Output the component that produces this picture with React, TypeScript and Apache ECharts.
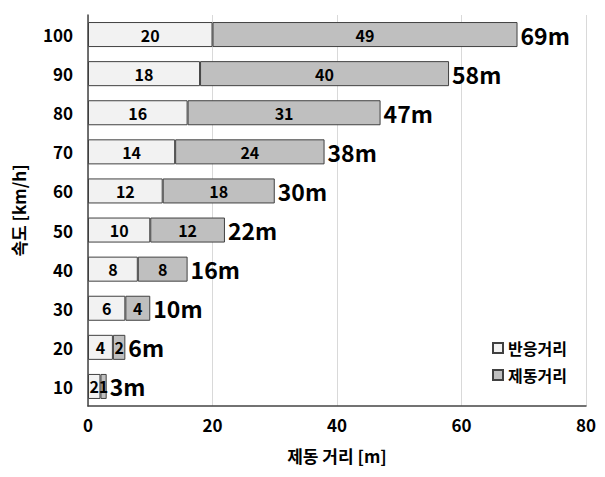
import React, { useEffect, useRef } from "react";
import * as echarts from "echarts";

const speeds = ["10", "20", "30", "40", "50", "60", "70", "80", "90", "100"];
const reaction = [2, 4, 6, 8, 10, 12, 14, 16, 18, 20];
const braking = [1, 2, 4, 8, 12, 18, 24, 31, 40, 49];
const totals = [3, 6, 10, 16, 22, 30, 38, 47, 58, 69];
const xTicks = [0, 20, 40, 60, 80];

const FONT = "'Noto Sans CJK KR', 'Noto Sans', sans-serif";

export default function App() {
  const ref = useRef<HTMLDivElement>(null);
  useEffect(() => {
    if (!ref.current) return;
    const chart = echarts.init(ref.current, null, { renderer: "svg" });
    const barLabel = {
      show: true,
      position: "inside",
      color: "#000",
      fontFamily: FONT,
      fontWeight: "bold",
      fontSize: 16,
    };
    chart.setOption({
      animation: false,
      textStyle: { fontFamily: FONT },
      grid: {
        left: 80,
        right: 11,
        top: 7,
        bottom: 63,
        containLabel: false,
        outerBoundsMode: "none",
      },
      legend: {
        orient: "vertical",
        left: 479,
        top: 327,
        itemWidth: 10,
        itemHeight: 10,
        itemGap: 11,
        icon: "rect",
        textStyle: { fontFamily: FONT, fontWeight: "bold", fontSize: 16, color: "#000" },
        data: ["반응거리", "제동거리"],
      },
      xAxis: {
        type: "value",
        min: xTicks[0],
        max: xTicks[xTicks.length - 1],
        interval: 20,
        name: "제동 거리 [m]",
        nameLocation: "middle",
        nameGap: 41,
        nameTextStyle: { fontFamily: FONT, fontWeight: "bold", fontSize: 17, color: "#000" },
        axisLine: { show: true, lineStyle: { color: "#444", width: 1.5 } },
        axisTick: { show: false },
        axisLabel: { fontFamily: FONT, fontWeight: "bold", fontSize: 17, color: "#000", margin: 10 },
        splitLine: { show: true, lineStyle: { color: "#d9d9d9", width: 1 } },
      },
      yAxis: {
        type: "category",
        data: speeds,
        name: "속도 [km/h]",
        nameLocation: "middle",
        nameGap: 61,
        nameRotate: 90,
        nameTextStyle: { fontFamily: FONT, fontWeight: "bold", fontSize: 17, color: "#000" },
        axisLine: { show: true, lineStyle: { color: "#444", width: 1.5 } },
        axisTick: { show: false },
        axisLabel: { fontFamily: FONT, fontWeight: "bold", fontSize: 17, color: "#000", margin: 15 },
      },
      series: [
        {
          name: "반응거리",
          type: "bar",
          stack: "d",
          barWidth: "64%",
          data: reaction,
          itemStyle: { color: "#f2f2f2", borderColor: "#404040", borderWidth: 1 },
          label: barLabel,
        },
        {
          name: "제동거리",
          type: "bar",
          stack: "d",
          data: braking,
          itemStyle: { color: "#bfbfbf", borderColor: "#404040", borderWidth: 1 },
          label: barLabel,
        },
        {
          name: "합계",
          type: "scatter",
          symbolSize: 0,
          itemStyle: { opacity: 1 },
          data: totals.map((t, i) => [t, speeds[i]]),
          label: {
            show: true,
            position: "right",
            distance: 3,
            formatter: (p: any) => `${p.value[0]}m`,
            fontFamily: FONT,
            fontWeight: "bold",
            fontSize: 23,
            color: "#000",
          },
          silent: true,
        },
      ],
    });
    return () => chart.dispose();
  }, []);
  return <div ref={ref} style={{ width: 589, height: 461 }} />;
}
